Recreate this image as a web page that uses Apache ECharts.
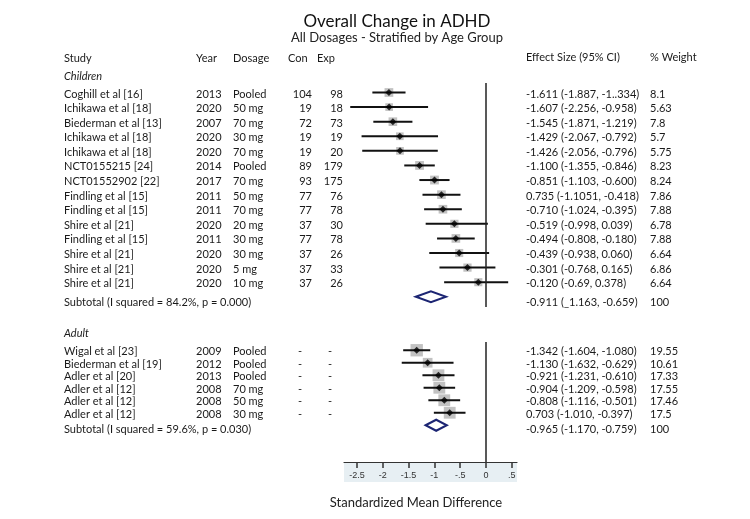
<!DOCTYPE html>
<html><head><meta charset="utf-8">
<script src="https://cdn.jsdelivr.net/npm/echarts@6/dist/echarts.min.js"></script>
<style>html,body{margin:0;padding:0;background:#fff}#chart{width:750px;height:519px}</style>
</head><body><div id="chart"></div>
<script>
const FONT = 'Lato';
const FS = 11;
const TXT = '#1a1a1a';

// ---- Children ----
const childStudy = ['Coghill et al [16]','Ichikawa et al [18]','Biederman et al [13]','Ichikawa et al [18]','Ichikawa et al [18]','NCT0155215 [24]','NCT01552902 [22]','Findling et al [15]','Findling et al [15]','Shire et al [21]','Findling et al [15]','Shire et al [21]','Shire et al [21]','Shire et al [21]'];
const childYear = ['2013','2020','2007','2020','2020','2014','2017','2011','2011','2020','2011','2020','2020','2020'];
const childDose = ['Pooled','50 mg','70 mg','30 mg','70 mg','Pooled','70 mg','50 mg','70 mg','20 mg','30 mg','30 mg','5 mg','10 mg'];
const childCon = ['104','19','72','19','19','89','93','77','77','37','77','37','37','37'];
const childExp = ['98','18','73','19','20','179','175','76','78','30','78','26','33','26'];
const childES = [-1.611,-1.607,-1.545,-1.429,-1.426,-1.100,-0.851,-0.735,-0.710,-0.519,-0.494,-0.439,-0.301,-0.120];
const childLo = [-1.887,-2.256,-1.871,-2.067,-2.056,-1.355,-1.103,-1.051,-1.024,-0.998,-0.808,-0.938,-0.768,-0.69];
const childHi = [-1.334,-0.958,-1.219,-0.792,-0.796,-0.846,-0.600,-0.418,-0.395,0.039,-0.180,0.060,0.165,0.378];
const childESText = ['-1.611 (-1.887, -1..334)','-1.607 (-2.256, -0.958)','-1.545 (-1.871, -1.219)','-1.429 (-2.067, -0.792)','-1.426 (-2.056, -0.796)','-1.100 (-1.355, -0.846)','-0.851 (-1.103, -0.600)','0.735 (-1.1051, -0.418)','-0.710 (-1.024, -0.395)','-0.519 (-0.998, 0.039)','-0.494 (-0.808, -0.180)','-0.439 (-0.938, 0.060)','-0.301 (-0.768, 0.165)','-0.120 (-0.69, 0.378)'];
const childWeight = [8.1,5.63,7.8,5.7,5.75,8.23,8.24,7.86,7.88,6.78,7.88,6.64,6.86,6.64];
const childSub = {label:'Subtotal (I squared = 84.2%, p = 0.000)', es:-0.911, lo:-1.163, hi:-0.659, text:'-0.911 (_1.163, -0.659)', weight:'100'};

// ---- Adult ----
const adultStudy = ['Wigal et al [23]','Biederman et al [19]','Adler et al [20]','Adler et al [12]','Adler et al [12]','Adler et al [12]'];
const adultYear = ['2009','2012','2013','2008','2008','2008'];
const adultDose = ['Pooled','Pooled','Pooled','70 mg','50 mg','30 mg'];
const adultCon = ['-','-','-','-','-','-'];
const adultExp = ['-','-','-','-','-','-'];
const adultES = [-1.342,-1.130,-0.921,-0.904,-0.808,-0.703];
const adultLo = [-1.604,-1.632,-1.231,-1.209,-1.116,-1.010];
const adultHi = [-1.080,-0.629,-0.610,-0.598,-0.501,-0.397];
const adultESText = ['-1.342 (-1.604, -1.080)','-1.130 (-1.632, -0.629)','-0.921 (-1.231, -0.610)','-0.904 (-1.209, -0.598)','-0.808 (-1.116, -0.501)','0.703 (-1.010, -0.397)'];
const adultWeight = [19.55,10.61,17.33,17.55,17.46,17.5];
const adultSub = {label:'Subtotal (I squared = 59.6%, p = 0.030)', es:-0.965, lo:-1.170, hi:-0.759, text:'-0.965 (-1.170, -0.759)', weight:'100'};

// ---- Axis ----
const tickValues = [-2.5,-2,-1.5,-1,-0.5,0,0.5];
const tickLabels = ['-2.5','-2','-1.5','-1','-.5','0','.5'];

const COL = {study:64, year:196, dose:233, con:312, exp:343, conDash:300, expDash:330, es:526, wt:650};

function txt(x, y, text, align) {
  return {type:'text', x:x, y:y, style:{text:text, fill:TXT, font:FS + 'px ' + FONT,
    align:align||'left', verticalAlign:'middle', textAlign:align||'left', textVerticalAlign:'middle'}};
}

function ciSeries(g, es, lo, hi, wt) {
  return {
    type:'custom', xAxisIndex:g, yAxisIndex:g, silent:true,
    data: es.map((v,i)=>[lo[i], hi[i], v, wt[i], i]),
    encode:{x:[0,1,2], y:4},
    renderItem(params, api) {
      const row = api.value(4);
      const p1 = api.coord([api.value(0), row]);
      const p2 = api.coord([api.value(1), row]);
      const pc = api.coord([api.value(2), row]);
      const s = 2.2 + 2.3*Math.sqrt(api.value(3));
      return {type:'group', children:[
        {type:'rect', shape:{x:pc[0]-s/2, y:pc[1]-s/2, width:s, height:s}, style:{fill:'#c2c2c2'}},
        {type:'line', shape:{x1:p1[0], y1:p1[1], x2:p2[0], y2:p2[1]}, style:{stroke:'#111', lineWidth:2}}
      ]};
    }
  };
}

function pointSeries(g, es) {
  return {
    type:'scatter', xAxisIndex:g, yAxisIndex:g, silent:true,
    symbol:'diamond', symbolSize:7, itemStyle:{color:'#000'},
    data: es.map((v,i)=>[v,i]),
    markLine:{silent:true, symbol:'none', label:{show:false},
      lineStyle:{color:'#222', width:1.5, type:'solid'}, data:[{xAxis:0}]}
  };
}

function subSeries(g, sub, row) {
  return {
    type:'custom', xAxisIndex:g, yAxisIndex:g, silent:true,
    data:[[sub.lo, sub.hi, sub.es, row]],
    encode:{x:[0,1,2], y:3},
    renderItem(params, api) {
      const r = api.value(3);
      const a = api.coord([api.value(0), r]);
      const b = api.coord([api.value(1), r]);
      const c = api.coord([api.value(2), r]);
      const h = 5.5;
      return {type:'polygon', shape:{points:[[a[0],a[1]],[c[0],c[1]-h],[b[0],b[1]],[c[0],c[1]+h]]},
        style:{fill:'#fff', stroke:'#1c2573', lineWidth:2}};
    }
  };
}

function tableSeries(g, study, year, dose, con, exp, esText, wt, sub, dy, subDy) {
  const n = study.length;
  const rows = study.map((_,i)=>[0,i]).concat([[0,n]]);
  return {
    type:'custom', xAxisIndex:g, yAxisIndex:g, silent:true,
    data: rows, encode:{x:0, y:1},
    renderItem(params, api) {
      const i = api.value(1);
      const y = api.coord([0, i])[1];
      if (i === n) {
        const ys = y + subDy;
        return {type:'group', children:[
          txt(COL.study, ys, sub.label), txt(COL.es, ys, sub.text), txt(COL.wt, ys, sub.weight)
        ]};
      }
      const yy = y + dy;
      const ch = [
        txt(COL.study, yy, study[i]), txt(COL.year, yy, year[i]), txt(COL.dose, yy, dose[i]),
        txt(COL.es, yy, esText[i]), txt(COL.wt, yy, String(wt[i]))
      ];
      if (con[i] === '-') { ch.push(txt(COL.conDash, yy, '-', 'center')); ch.push(txt(COL.expDash, yy, '-', 'center')); }
      else { ch.push(txt(COL.con, yy, con[i], 'right')); ch.push(txt(COL.exp, yy, exp[i], 'right')); }
      return {type:'group', children:ch};
    }
  };
}

const chart = echarts.init(document.getElementById('chart'), null, {renderer:'canvas'});
const gtxt = (x,y,text,opt) => ({type:'text', x:x, y:y, silent:true,
  style:Object.assign({text:text, fill:TXT, font:FS + 'px '+FONT, textAlign:'left', textVerticalAlign:'middle'}, opt||{})});

chart.setOption({
  animation:false,
  backgroundColor:'#fff',
  title:{
    text:'Overall Change in ADHD', subtext:'All Dosages - Stratified by Age Group',
    left:392, top:8, textAlign:'center', itemGap:1,
    textStyle:{fontFamily:FONT, fontSize:17, fontWeight:'normal', color:'#111'},
    subtextStyle:{fontFamily:FONT, fontSize:13, color:'#222'}
  },
  grid:[
    {left:344, width:173, top:83, height:224},
    {left:344, width:173, top:342, height:120}
  ],
  xAxis:[
    {gridIndex:0, type:'value', min:-2.36, max:0.525, show:false},
    {gridIndex:1, type:'value', min:-2.75, max:0.6,
      axisLine:{show:true, onZero:false, lineStyle:{color:'#333', width:1.2}},
      axisTick:{show:true, customValues:tickValues, length:6, lineStyle:{color:'#333', width:1.5}},
      axisLabel:{customValues:tickValues, margin:9, fontSize:9, fontFamily:'Liberation Sans', color:'#333',
        formatter:(v)=>{ const k = tickValues.findIndex(t=>Math.abs(t-v)<1e-9); return k>=0 ? tickLabels[k] : ''; }},
      splitLine:{show:false}}
  ],
  yAxis:[
    {gridIndex:0, type:'value', inverse:true, min:-0.65, max:14.7, show:false},
    {gridIndex:1, type:'value', inverse:true, min:-0.66, max:8.94, show:false}
  ],
  graphic:[
    {type:'rect', z:-1, silent:true, shape:{x:344, y:462, width:173, height:20}, style:{fill:'#e7eff3'}},
    gtxt(COL.study, 58, 'Study'), gtxt(COL.year, 58, 'Year'), gtxt(COL.dose, 58, 'Dosage'),
    gtxt(288, 58, 'Con'), gtxt(317, 58, 'Exp'),
    gtxt(COL.es, 57, 'Effect Size (95% CI)'), gtxt(COL.wt, 57, '% Weight'),
    gtxt(COL.study, 76, 'Children', {font:'italic ' + FS + 'px '+FONT}),
    gtxt(COL.study, 333, 'Adult', {font:'italic ' + FS + 'px '+FONT}),
    gtxt(416, 503, 'Standardized Mean Difference', {font:'13px '+FONT, textAlign:'center', fill:'#222'})
  ],
  series:[
    ciSeries(0, childES, childLo, childHi, childWeight),
    pointSeries(0, childES),
    subSeries(0, childSub, childES.length),
    tableSeries(0, childStudy, childYear, childDose, childCon, childExp, childESText, childWeight, childSub, 1.5, 5.5),
    ciSeries(1, adultES, adultLo, adultHi, adultWeight),
    pointSeries(1, adultES),
    subSeries(1, adultSub, adultES.length),
    tableSeries(1, adultStudy, adultYear, adultDose, adultCon, adultExp, adultESText, adultWeight, adultSub, 1.5, 4.5)
  ]
});
</script></body></html>
